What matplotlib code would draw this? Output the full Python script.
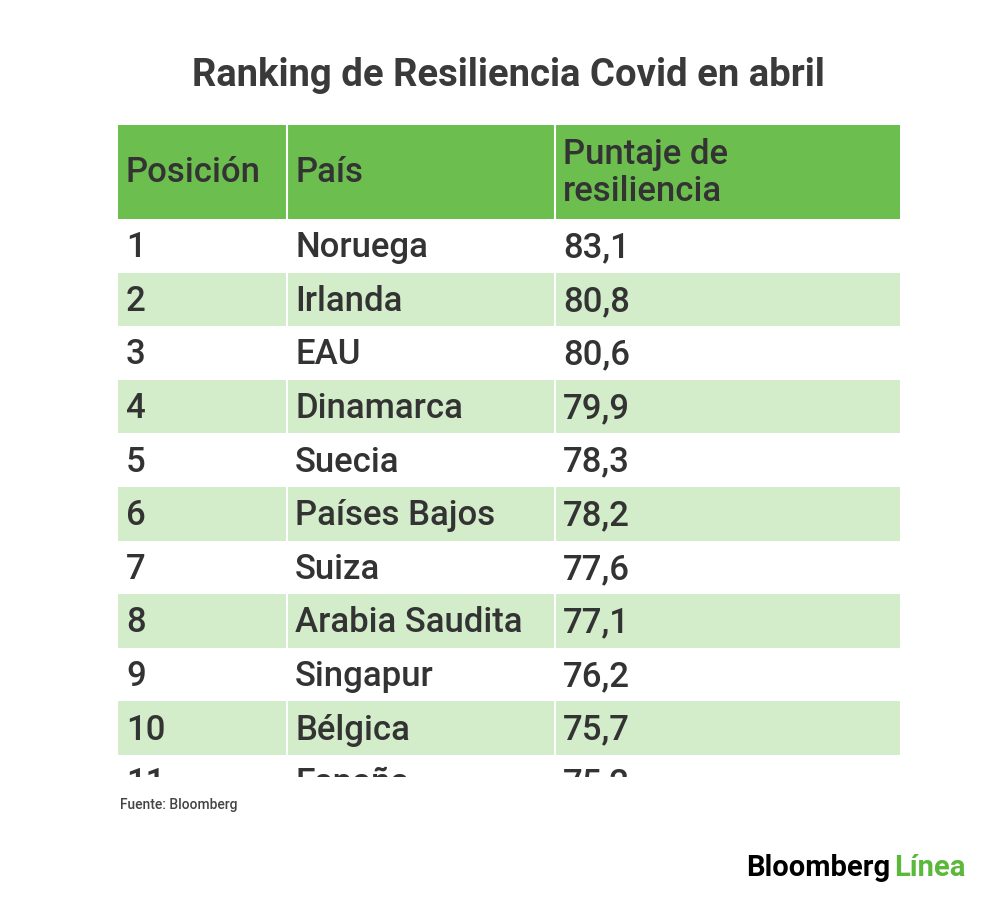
import matplotlib.pyplot as plt
from matplotlib.patches import Rectangle

positions = ["1", "2", "3", "4", "5", "6", "7", "8", "9", "10", "11"]
countries = ["Noruega", "Irlanda", "EAU", "Dinamarca", "Suecia", "Países Bajos",
             "Suiza", "Arabia Saudita", "Singapur", "Bélgica", "España"]
scores = ["83,1", "80,8", "80,6", "79,9", "78,3", "78,2", "77,6", "77,1", "76,2", "75,7", "75,2"]
headers = ["Posición", "País", "Puntaje de\nresiliencia"]

plt.rcParams['font.family'] = ['Roboto', 'DejaVu Sans']
fig = plt.figure(figsize=(10, 9.04), dpi=100)
ax = fig.add_axes([0, 0, 1, 1])
ax.set_xlim(0, 1000)
ax.set_ylim(904, 0)
ax.axis('off')

txt = '#333333'
x0, x1 = 118, 900
col_x = [118, 287, 555]
text_x = [126, 295, 563]
head_top, head_bot = 126, 220
row_h = 53.6
cut_y = 778

ax.text(508, 75, "Ranking de Resiliencia Covid en abril", ha='center', va='center',
        fontsize=27.5, fontweight='bold', color='#3a3a3a')

ax.add_patch(Rectangle((x0, head_top), x1 - x0, head_bot - head_top, color='#6cbf4e', lw=0))
for i, h in enumerate(headers):
    ax.text(text_x[i], (head_top + head_bot) / 2, h, ha='left', va='center',
            fontsize=25, fontweight='medium', color=txt, linespacing=1.15)

# the table is scrolled: everything below cut_y is hidden
clip = Rectangle((0, 0), 1000, cut_y, transform=ax.transData)
for r in range(len(positions)):
    top = head_bot + r * row_h
    if r % 2 == 1:
        ax.add_patch(Rectangle((x0, top), x1 - x0, row_h, color='#d3ecca', lw=0))
    cy = top + row_h / 2 + 1
    for i, v in enumerate([positions[r], countries[r], scores[r]]):
        t = ax.text(text_x[i], cy, v, ha='left', va='center', fontsize=25,
                    fontweight='medium', color=txt, clip_on=True)
        t.set_clip_path(clip)

for cx in col_x[1:]:
    ax.plot([cx, cx], [head_top, cut_y], color='white', lw=1.5, zorder=4)

ax.text(120, 805, "Fuente: Bloomberg", ha='left', va='center', fontsize=10,
        fontweight='medium', color='#444444', zorder=6)
ax.text(890, 868, "Bloomberg", ha='right', va='center', fontsize=21, fontweight='bold',
        color='black', zorder=6)
ax.text(894, 868, "Línea", ha='left', va='center', fontsize=21, fontweight='bold',
        color='#5cb83c', zorder=6)

fig.savefig("out.png", dpi=100)
